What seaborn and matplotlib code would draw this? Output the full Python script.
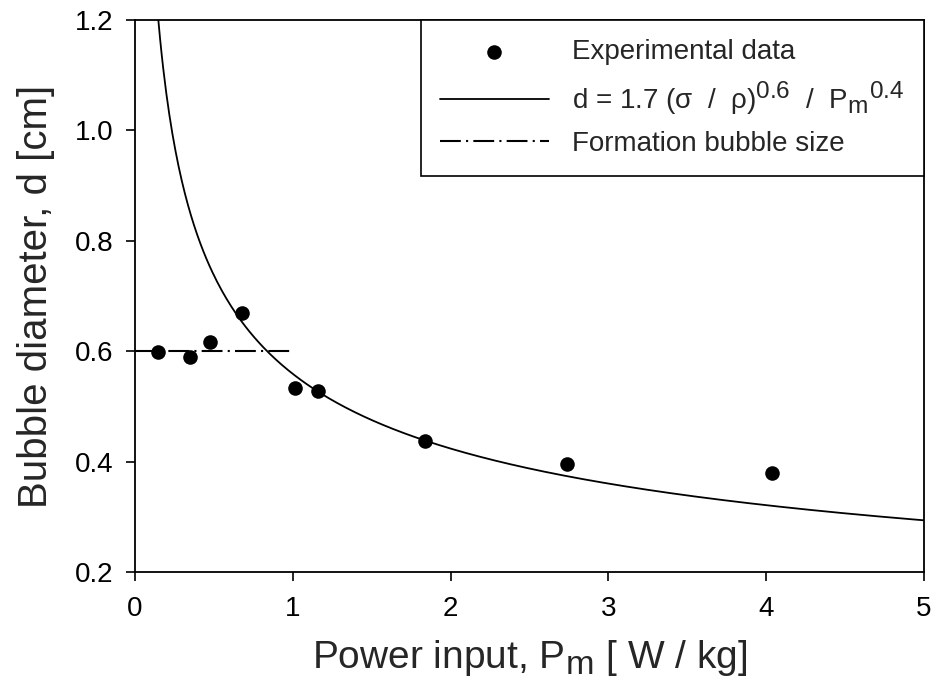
import numpy as np
import pandas as pd
import matplotlib
matplotlib.use("Agg")
import matplotlib.pyplot as plt
import seaborn as sns

try:
    import matplotlib._mathtext as _mt
    _mt.SHRINK_FACTOR = 0.88
except Exception:
    pass

power_exp = [0.147, 0.35, 0.475, 0.68, 1.014, 1.16, 1.84, 2.74, 4.035]
diam_exp = [0.599, 0.589, 0.617, 0.670, 0.533, 0.528, 0.438, 0.395, 0.380]

# Correlation d = C / Pm^0.4, with C = 1.7 (sigma/rho)^0.6
corr_const = 0.559
corr_exponent = 0.4
corr_p_start, corr_p_end = 0.12, 5.0

# Formation bubble size line
formation_x = [0.0, 1.0]
formation_y = [0.6, 0.6]

x_ticks = [0, 1, 2, 3, 4, 5]
y_ticks = [0.2, 0.4, 0.6, 0.8, 1.0, 1.2]

sns.set_style("ticks")
plt.rcParams['font.family'] = ['Liberation Sans', 'DejaVu Sans']
plt.rcParams['mathtext.fontset'] = 'custom'
plt.rcParams['mathtext.rm'] = 'Liberation Sans'
plt.rcParams['mathtext.it'] = 'Liberation Sans'
plt.rcParams['mathtext.default'] = 'regular'

fig = plt.figure(figsize=(9.36, 6.94), dpi=100)
ax = fig.add_axes([0.1442, 0.1758, 0.987 - 0.1442, 0.9712 - 0.1758])

p_curve = np.linspace(corr_p_start, corr_p_end, 500)
d_curve = corr_const / p_curve ** corr_exponent
curve_df = pd.DataFrame({"P": p_curve, "d": d_curve})
form_df = pd.DataFrame({"P": formation_x, "d": formation_y})
exp_df = pd.DataFrame({"P": power_exp, "d": diam_exp})

sns.scatterplot(data=exp_df, x="P", y="d", ax=ax, color="black", s=110,
                edgecolor="black", linewidth=0, zorder=4, label="Experimental data")
sns.lineplot(data=curve_df, x="P", y="d", ax=ax, color="black", linewidth=1.3,
             sort=False, estimator=None, zorder=3,
             label=r"d = 1.7 (σ  /  ρ)$^{0.6}$  /  P$_{m}$$^{0.4}$")
sns.lineplot(data=form_df, x="P", y="d", ax=ax, color="black", linewidth=1.5,
             sort=False, estimator=None, zorder=3, label="Formation bubble size")
ax.lines[-1].set_dashes((10, 2.5, 1, 2.5))

ax.set_xlim(0, 5)
ax.set_ylim(0.2, 1.2)
ax.set_xticks(x_ticks)
ax.set_yticks(y_ticks)
ax.set_xticklabels([str(v) for v in x_ticks])
ax.set_yticklabels([f"{v:.1f}" for v in y_ticks])
ax.tick_params(direction="out", length=6.5, width=1.2, labelsize=20, colors="black")
ax.tick_params(axis="x", pad=11)
ax.tick_params(axis="y", pad=9)

for s in ax.spines.values():
    s.set_visible(True)
    s.set_color("black")
    s.set_linewidth(1.3)

ax.set_xlabel(r"Power input, P$_{m}$ [ W / kg]", fontsize=28, labelpad=11)
ax.set_ylabel("Bubble diameter, d [cm]", fontsize=29, labelpad=14)

handles, labels = ax.get_legend_handles_labels()
leg = ax.legend(handles, labels, loc="upper right", borderaxespad=0, fontsize=20,
                frameon=True, fancybox=False, framealpha=1, edgecolor="black",
                handlelength=3.9, handletextpad=0.85, labelspacing=0.5,
                borderpad=0.7)
leg.get_frame().set_linewidth(1.2)

fig.savefig("out.png", dpi=100)
